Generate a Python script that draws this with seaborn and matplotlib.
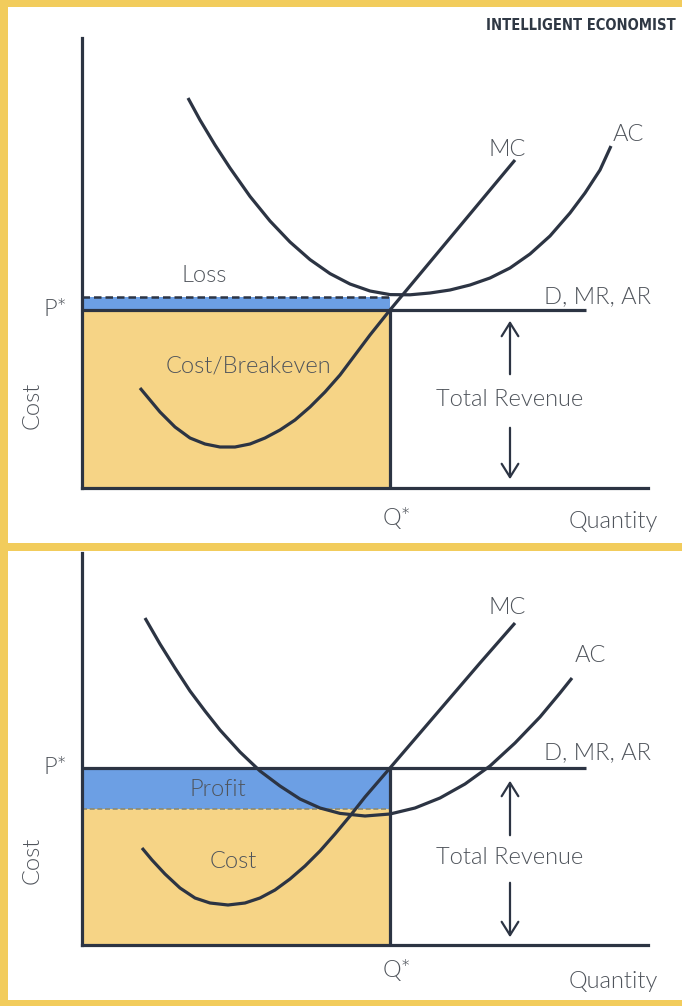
import matplotlib
matplotlib.use("Agg")
import matplotlib.pyplot as plt
from matplotlib.patches import Rectangle
import seaborn as sns

# price / quantity levels (40 px = 1 unit)
q_star = 7.7
p_star_loss = 4.45
ac_min_loss = 4.78
p_star_profit = 4.425
ac_at_q_profit = 3.4
d_line_end = 12.6

# panel 1 (loss / breakeven) curves
ac1_q = [2.65, 2.95, 3.325, 3.7, 4.2, 4.7, 5.2, 5.7, 6.2, 6.7, 7.2, 7.7, 8.2, 8.7,
         9.2, 9.7, 10.2, 10.7, 11.2, 11.7, 12.2, 12.575, 12.95, 13.225]
ac1_c = [9.75, 9.2, 8.575, 8.0, 7.29, 6.675, 6.15, 5.71, 5.36, 5.1, 4.925, 4.835,
         4.83, 4.875, 4.95, 5.075, 5.25, 5.5, 5.85, 6.3, 6.875, 7.375, 7.95, 8.55]
mc1_q = [1.45, 1.7, 1.95, 2.325, 2.7, 3.075, 3.45, 3.825, 4.2, 4.575, 4.95, 5.325,
         5.7, 6.075, 6.45, 6.825, 7.2, 7.7, 8.45, 9.2, 9.95, 10.825]
mc1_c = [2.5, 2.2, 1.9, 1.525, 1.25, 1.1, 1.025, 1.025, 1.1, 1.25, 1.45, 1.7,
         2.025, 2.4, 2.825, 3.325, 3.825, 4.45, 5.35, 6.25, 7.15, 8.2]

# panel 2 (profit) curves
ac2_q = [1.575, 1.95, 2.325, 2.7, 3.075, 3.45, 3.95, 4.45, 4.95, 5.45, 5.95, 6.45,
         7.075, 7.7, 8.325, 8.95, 9.575, 10.2, 10.825, 11.45, 11.95, 12.25]
ac2_c = [8.175, 7.525, 6.925, 6.35, 5.85, 5.375, 4.825, 4.35, 3.975, 3.65, 3.425,
         3.29, 3.225, 3.275, 3.425, 3.675, 4.025, 4.475, 5.05, 5.7, 6.3, 6.675]
mc2_q = [1.5, 1.75, 2.075, 2.45, 2.825, 3.2, 3.65, 4.075, 4.45, 4.825, 5.2, 5.575,
         5.95, 6.325, 6.7, 7.075, 7.7, 8.45, 9.2, 9.95, 10.825]
mc2_c = [2.425, 2.125, 1.775, 1.425, 1.175, 1.05, 1.0, 1.05, 1.175, 1.375, 1.65,
         1.975, 2.35, 2.775, 3.225, 3.7, 4.425, 5.3, 6.175, 7.05, 8.05]

NAVY = "#2c3443"
TEXT = "#4f545b"
YELLOW = "#f6d486"
BLUE = "#6c9fe4"
BORDER = "#f2cc5c"

sns.set_theme(style="white")
plt.rcParams["font.family"] = ["Lato", "DejaVu Sans"]

fig = plt.figure(figsize=(6.82, 10.06), dpi=100)
W, H = 682, 1006


def px_axes(left, top, right, bottom):
    return fig.add_axes([left / W, 1 - bottom / H, (right - left) / W, (bottom - top) / H])


def style_ax(ax, ymax):
    ax.set_xlim(0, (648 - 82) / 40)
    ax.set_ylim(0, ymax)
    ax.set_xticks([])
    ax.set_yticks([])
    for s in ["top", "right"]:
        ax.spines[s].set_visible(False)
    for s in ["left", "bottom"]:
        ax.spines[s].set_color(NAVY)
        ax.spines[s].set_linewidth(2.3)
    ax.patch.set_alpha(0)


def curve(ax, q, c):
    sns.lineplot(x=q, y=c, ax=ax, sort=False, estimator=None, color=NAVY,
                 linewidth=2.3, solid_capstyle="butt", solid_joinstyle="round")


def arrows(ax, x, up0, up1, dn0, dn1):
    kw = dict(arrowstyle="->,head_length=0.8,head_width=0.5", color=NAVY, lw=1.6)
    ax.annotate("", xy=(x, up1), xytext=(x, up0), arrowprops=kw)
    ax.annotate("", xy=(x, dn1), xytext=(x, dn0), arrowprops=kw)


lab = dict(color=TEXT, fontsize=17, fontweight=300, ha="center", va="center")

# ---------- panel 1 ----------
ax1 = px_axes(82, 38, 648, 488)
style_ax(ax1, (488 - 38) / 40)
ax1.fill_between([0, q_star], 0, p_star_loss, color=YELLOW, lw=0)
ax1.fill_between([0, q_star], p_star_loss, ac_min_loss, color=BLUE, lw=0)
ax1.hlines(ac_min_loss, 0, q_star, colors=NAVY, linestyles=(0, (3, 1.6)), lw=1.8)
ax1.hlines(p_star_loss, 0, d_line_end, colors=NAVY, lw=2.3)
ax1.vlines(q_star, 0, p_star_loss, colors=NAVY, lw=2.3)
curve(ax1, ac1_q, ac1_c)
curve(ax1, mc1_q, mc1_c)
arrows(ax1, 10.7, 2.775, 4.25, 1.575, 0.15)
ax1.text(3.05, 5.3, "Loss", **lab)
ax1.text(4.15, 3.05, "Cost/Breakeven", **lab)
ax1.text(10.7, 2.2, "Total Revenue", **lab)
ax1.text(10.625, 8.45, "MC", **lab)
ax1.text(13.65, 8.83, "AC", **lab)
ax1.text(12.9, 4.78, "D, MR, AR", **lab)
ax1.text(-0.675, 4.45, "P*", clip_on=False, **lab)
ax1.text(-1.25, 2.075, "Cost", rotation=90, clip_on=False, **lab)
ax1.text(7.875, -0.75, "Q*", clip_on=False, **lab)
ax1.text(13.275, -0.85, "Quantity", clip_on=False, **lab)

# ---------- panel 2 ----------
ax2 = px_axes(82, 553, 648, 945)
style_ax(ax2, (945 - 553) / 40)
ax2.fill_between([0, q_star], 0, ac_at_q_profit, color=YELLOW, lw=0)
ax2.fill_between([0, q_star], ac_at_q_profit, p_star_profit, color=BLUE, lw=0)
ax2.hlines(ac_at_q_profit, 0, q_star, colors="#8c8a72", linestyles=(0, (3, 1.6)), lw=1.2)
ax2.hlines(p_star_profit, 0, d_line_end, colors=NAVY, lw=2.3)
ax2.vlines(q_star, 0, p_star_profit, colors=NAVY, lw=2.3)
curve(ax2, ac2_q, ac2_c)
curve(ax2, mc2_q, mc2_c)
arrows(ax2, 10.7, 2.675, 4.175, 1.625, 0.125)
ax2.text(3.4, 3.875, "Profit", **lab)
ax2.text(3.775, 2.075, "Cost", **lab)
ax2.text(10.7, 2.175, "Total Revenue", **lab)
ax2.text(10.625, 8.45, "MC", **lab)
ax2.text(12.7, 7.25, "AC", **lab)
ax2.text(12.9, 4.8, "D, MR, AR", **lab)
ax2.text(-0.675, 4.425, "P*", clip_on=False, **lab)
ax2.text(-1.25, 2.125, "Cost", rotation=90, clip_on=False, **lab)
ax2.text(7.875, -0.625, "Q*", clip_on=False, **lab)
ax2.text(13.275, -0.925, "Quantity", clip_on=False, **lab)

# yellow frame
for (x0, y0, w, h) in [(0, 0, W, 7), (0, 0, 8, H), (0, 543, W, 8), (0, 1000, W, 6)]:
    fig.add_artist(Rectangle((x0 / W, 1 - (y0 + h) / H), w / W, h / H,
                             transform=fig.transFigure, color=BORDER, lw=0))

fig.text(676 / W, 1 - 26 / H, "INTELLIGENT ECONOMIST", ha="right", va="center",
         fontsize=10.5, fontweight="bold", fontstretch="condensed", color="#2f3844",
         family=["DejaVu Sans", "Liberation Sans Narrow"])

fig.savefig("out.png", dpi=100)
